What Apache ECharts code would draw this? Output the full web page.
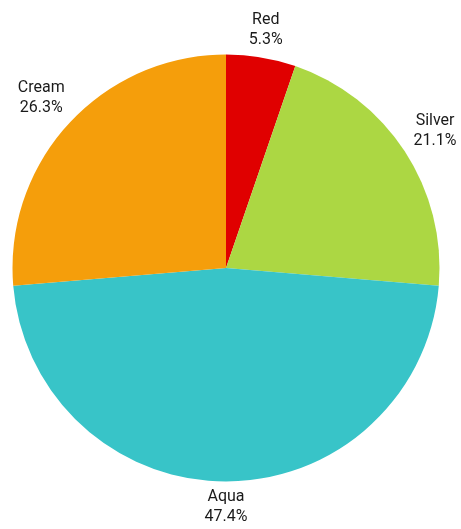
<!DOCTYPE html>
<html>
<head>
<meta charset="utf-8">
<script src="https://cdn.jsdelivr.net/npm/echarts@6/dist/echarts.min.js"></script>
<style>
  html, body { margin: 0; padding: 0; background: #fff; }
  #chart { width: 461px; height: 529px; }
</style>
</head>
<body>
<div id="chart"></div>
<script>
// Slice names, counts and colours, clockwise from 12 o'clock
const categories = ['Red', 'Silver', 'Aqua', 'Cream'];
const counts = [1, 4, 9, 5];
const colors = ['#e00000', '#acd743', '#38c4c8', '#f59e0b'];

const PIE_RADIUS = 213.5;
const LABEL_GAP = 9.5;   // distance from the rim to the label anchor
const LINE_PAD_Y = 4;    // leading above/below the glyphs inside each label box

const chart = echarts.init(document.getElementById('chart'), null, { renderer: 'canvas' });

// Centre each label box beyond the rim on its slice's mid-angle,
// pushed out by the box's half-extent in that direction.
function placeLabel(params) {
  const layout = chart.getModel().getSeriesByIndex(params.seriesIndex)
    .getData().getItemLayout(params.dataIndex);
  const mid = (layout.startAngle + layout.endAngle) / 2;
  const dx = Math.cos(mid);
  const dy = Math.sin(mid);
  const hw = params.labelRect.width / 2;
  const hh = params.labelRect.height / 2 - LINE_PAD_Y;
  const t = layout.r + LABEL_GAP + hw * Math.abs(dx) + hh * Math.abs(dy);
  return {
    x: layout.cx + t * dx,
    y: layout.cy + t * dy,
    align: 'center',
    verticalAlign: 'middle'
  };
}

chart.setOption({
  animation: false,
  backgroundColor: '#ffffff',
  series: [
    {
      type: 'pie',
      center: [226, 268],
      radius: [0, PIE_RADIUS],
      startAngle: 90,
      clockwise: true,
      silent: true,
      avoidLabelOverlap: false,
      itemStyle: { borderWidth: 0 },
      label: {
        show: true,
        position: 'outside',
        formatter: p => p.name + '\n' + p.percent.toFixed(1) + '%',
        fontFamily: 'Roboto, sans-serif',
        fontSize: 16,
        lineHeight: 20,
        color: '#1a1a1a'
      },
      labelLine: { show: false },
      labelLayout: placeLabel,
      data: categories.map((name, i) => ({
        name: name,
        value: counts[i],
        itemStyle: { color: colors[i] }
      }))
    }
  ]
});
</script>
</body>
</html>
